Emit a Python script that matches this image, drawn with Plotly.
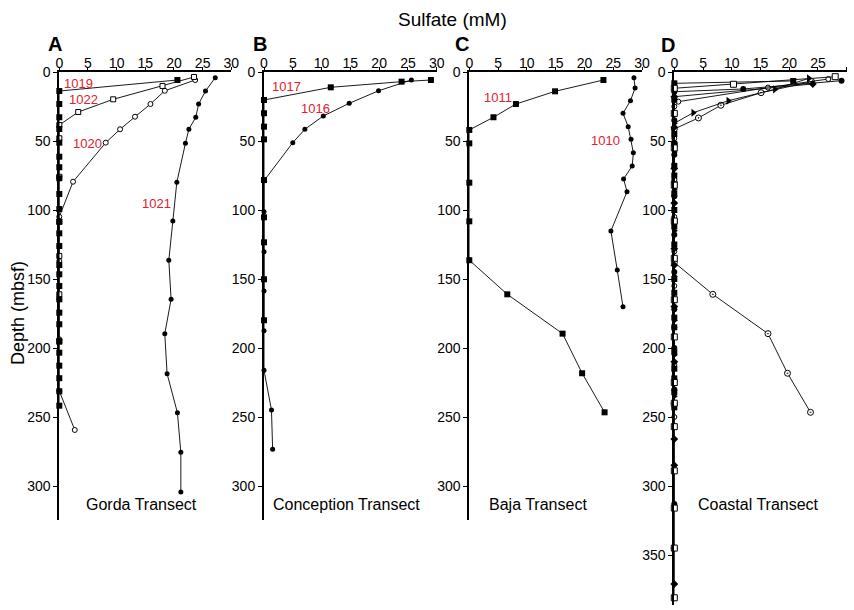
import plotly.graph_objects as go

# ---------------- data (sulfate mM vs depth mbsf) ----------------
# Panel A - Gorda Transect
a1019_sulfate = [20.6, 0, 0, 0, 0, 0, 0, 0, 0, 0, 0, 0, 0, 0, 0, 0, 0, 0, 0, 0, 0, 0, 0, 0, 0, 0]
a1019_depth = [5.8, 13.8, 23.2, 32.8, 41.3, 51.2, 61.4, 69, 77, 88.4, 99.3, 108.5, 116.9, 126.1,
               139.9, 146.6, 155.1, 164.7, 174.4, 182.8, 195.4, 203.4, 212.8, 221.9, 231.4, 241.8]
a1022_sulfate = [23.5, 18.0, 9.4, 3.3, 0, 0, 0, 0, 0, 0, 0]
a1022_depth = [3.6, 10.1, 19.8, 29, 38.4, 48, 75.9, 108.5, 133.3, 161.1, 195]
a1020_sulfate = [23.7, 18.4, 15.9, 13.2, 10.6, 8.1, 2.4, 0, 0, 0, 0, 0, 2.7]
a1020_depth = [5.8, 13.6, 23.2, 32.4, 41.5, 51.2, 79.5, 104.9, 137, 164.7, 193.7, 231.2, 259.4]
a1021_sulfate = [27.2, 25.5, 24.3, 23.8, 22.6, 22.0, 20.5, 19.8, 19.1, 19.5, 18.4, 18.8, 20.6, 21.2, 21.2]
a1021_depth = [4.1, 13.8, 23.2, 32.8, 41.5, 51.7, 79.9, 108, 136.4, 164.7, 189.6, 218.6, 246.9, 275.6, 304.3]

# Panel B - Conception Transect
b1017_sulfate = [29.0, 23.9, 11.6, 0, 0, 0, 0, 0, 0, 0, 0, 0]
b1017_depth = [5.8, 7, 11.1, 20.3, 29.9, 39.6, 48.8, 78.3, 105.3, 123.4, 150.2, 179.9]
b1016_sulfate = [25.6, 19.9, 14.8, 10.3, 7.1, 5.0, 0, 0, 0, 0, 0, 0, 1.3, 1.5]
b1016_depth = [5.8, 13.6, 22.7, 31.9, 41.5, 51.2, 78.8, 101.2, 130.2, 158.7, 187.5, 216.2, 244.9, 273.4]

# Panel C - Baja Transect
c1011_sulfate = [23.3, 14.9, 8.1, 4.2, 0, 0, 0, 0, 0, 6.6, 16.2, 19.6, 23.5]
c1011_depth = [5.8, 14, 23.2, 32.8, 42, 51.7, 80.2, 108.2, 136.4, 161.1, 189.6, 218.3, 246.6]
c1010_sulfate = [28.6, 28.8, 28.0, 26.7, 27.6, 28.1, 28.5, 28.3, 26.8, 27.4, 24.6, 25.7, 26.7]
c1010_depth = [4.1, 11.6, 20.8, 29.9, 39.6, 48.8, 58.5, 68.1, 77.5, 86.7, 115.2, 143.5, 170.1]

# Panel D - Coastal Transect
d_s1_sulfate = [28.0, 10.3, 0, 0, 0, 0, 0, 0, 0, 0, 0, 0, 0, 0, 0, 0, 0]
d_s1_depth = [3.4, 8.9, 11.8, 30, 55, 82, 108, 135, 165, 192, 225, 240, 257, 289, 316, 345, 381]
d_s2_sulfate = [29.1, 12.0, 0, 0, 0, 0, 0, 0, 0, 0, 0, 0]
d_s2_depth = [6.3, 12.3, 14.3, 35, 60, 90, 118, 145, 172, 200, 230, 313]
d_s3_sulfate = [20.7, 0, 0, 0, 0, 0, 0, 0, 0, 0, 0, 0, 0, 0, 0, 0, 0, 0, 0, 0]
d_s3_depth = [6.5, 8.2, 20, 45, 52, 68, 75, 88, 100, 112, 125, 150, 160, 178, 185, 203, 215, 222, 232, 243]
d_s4_sulfate = [24.1, 0, 0, 0, 0, 0, 0, 0, 0, 0, 0, 0, 0, 0]
d_s4_depth = [8.7, 17.9, 40, 70, 95, 128, 140, 170, 210, 240, 266, 285, 345, 371]
d_s5_sulfate = [26.8, 16.3, 0.7, 0, 0, 0, 0, 0, 0, 0, 0, 0]
d_s5_depth = [5.1, 11.3, 21.5, 25, 48, 78, 105, 130, 155, 185, 212, 250]
d_s6_sulfate = [23.4, 17.5, 9.4, 3.3, 0, 0, 0, 0, 0, 0, 0, 0]
d_s6_depth = [4.6, 12.6, 20.8, 29.5, 37.2, 58, 85, 115, 148, 180, 205, 235]
d_s7_sulfate = [23.9, 15.1, 8.1, 4.2, 0, 0, 0, 0, 0, 6.7, 16.3, 19.7, 23.7]
d_s7_depth = [7, 15, 24.1, 33.3, 41.3, 52, 80, 108, 138, 161.1, 189.6, 218.3, 246.6]

x_ticks = [0, 5, 10, 15, 20, 25, 30]
y_ticks_abc = [0, 50, 100, 150, 200, 250, 300]
y_ticks_d = [0, 50, 100, 150, 200, 250, 300, 350]
transect_names = ["Gorda Transect", "Conception Transect", "Baja Transect", "Coastal Transect"]
panel_letters = ["A", "B", "C", "D"]

# ---------------- figure ----------------
W, H = 854, 610
FONT = "Liberation Sans, Arial, Helvetica, sans-serif"
RED = "#e0202e"

fig = go.Figure()


def add(xs, ys, ax, symbol, size, filled=True, lw=0.9):
    if filled:
        marker = dict(symbol=symbol, size=size, color="black", line=dict(width=0))
    else:
        marker = dict(symbol=symbol, size=size, color="white", line=dict(color="black", width=1))
    fig.add_trace(go.Scatter(
        x=xs, y=ys, mode="lines+markers", xaxis="x" + ax, yaxis="y" + ax,
        line=dict(color="black", width=lw), marker=marker, cliponaxis=False,
        showlegend=False, hoverinfo="skip"))


# A
add(a1021_sulfate, a1021_depth, "", "circle", 5)
add(a1020_sulfate, a1020_depth, "", "circle", 5, filled=False)
add(a1022_sulfate, a1022_depth, "", "square", 5, filled=False)
add(a1019_sulfate, a1019_depth, "", "square", 6)
# B
add(b1016_sulfate, b1016_depth, "2", "circle", 5)
add(b1017_sulfate, b1017_depth, "2", "square", 6)
# C
add(c1010_sulfate, c1010_depth, "3", "circle", 5)
add(c1011_sulfate, c1011_depth, "3", "square", 6)
# D
add(d_s7_sulfate, d_s7_depth, "4", "circle-dot", 6, filled=False)
add(d_s6_sulfate, d_s6_depth, "4", "triangle-right", 7)
add(d_s5_sulfate, d_s5_depth, "4", "circle", 5, filled=False)
add(d_s4_sulfate, d_s4_depth, "4", "diamond", 6)
add(d_s3_sulfate, d_s3_depth, "4", "square", 6)
add(d_s2_sulfate, d_s2_depth, "4", "circle", 6)
add(d_s1_sulfate, d_s1_depth, "4", "square", 6, filled=False)

# axes geometry (pixels -> paper)
x_px = [(59.3, 231.3), (264.0, 436.7), (469.3, 642.0), (674.3, 846.7)]
y_top = 72
y_bot = [520, 520, 520, 605]
scale = 1.38  # px per mbsf

layout = dict(
    template="none",
    width=W, height=H, autosize=False,
    margin=dict(l=0, r=0, t=0, b=0, pad=0),
    paper_bgcolor="white", plot_bgcolor="white",
    font=dict(family=FONT, color="black", size=13),
)
for i in range(4):
    suf = "" if i == 0 else str(i + 1)
    ax_id = "" if i == 0 else str(i + 1)
    x0, x1 = x_px[i]
    yb = y_bot[i]
    ymax = (yb - y_top) / scale
    layout["xaxis" + suf] = dict(
        domain=[x0 / W, x1 / W], range=[0, 30], side="top", anchor="y" + ax_id,
        automargin=False, ticklabelstandoff=-6,
        showline=True, linecolor="black", linewidth=1.5, ticks="outside", ticklen=3,
        tickwidth=1, tickcolor="black", tickvals=x_ticks, showgrid=False, zeroline=False,
        tickfont=dict(size=14, family=FONT, color="black"), fixedrange=True)
    layout["yaxis" + suf] = dict(
        domain=[1 - yb / H, 1 - y_top / H], range=[ymax, 0], anchor="x" + ax_id,
        automargin=False,
        showline=True, linecolor="black", linewidth=2, ticks="outside", ticklen=4,
        tickwidth=1, tickcolor="black",
        tickvals=y_ticks_d if i == 3 else y_ticks_abc,
        showgrid=False, zeroline=False,
        tickfont=dict(size=14, family=FONT, color="black"), fixedrange=True)

fig.update_layout(**layout)

ann = []
# site labels (red)
site_labels = [("1019", "", 3.4, 8), ("1022", "", 4.2, 19.7), ("1020", "", 5.0, 51.7),
               ("1021", "", 17.0, 95), ("1017", "2", 3.9, 10.6), ("1016", "2", 9.0, 26.3),
               ("1011", "3", 4.9, 18.6), ("1010", "3", 23.7, 49.3)]
for txt, ax, xv, yv in site_labels:
    ann.append(dict(text=txt, x=xv, y=yv, xref="x" + ax, yref="y" + ax, showarrow=False,
                    xanchor="center", yanchor="middle",
                    font=dict(size=13, color=RED, family=FONT)))
# transect names
t_pos = [14.4, 14.3, 11.85, 14.6]
for i in range(4):
    ax = "" if i == 0 else str(i + 1)
    ann.append(dict(text=transect_names[i], x=t_pos[i], y=313.5, xref="x" + ax, yref="y" + ax,
                    showarrow=False, xanchor="center", yanchor="middle",
                    font=dict(size=16, family=FONT, color="black")))
# panel letters
letter_px = [(55, 44), (260, 44), (462, 44), (668, 45)]
for i in range(4):
    ann.append(dict(text="<b>" + panel_letters[i] + "</b>", x=letter_px[i][0] / W,
                    y=1 - letter_px[i][1] / H, xref="paper", yref="paper", showarrow=False,
                    xanchor="center", yanchor="middle",
                    font=dict(size=20, family=FONT, color="black")))
# titles
ann.append(dict(text="Sulfate (mM)", x=452 / W, y=1 - 19 / H, xref="paper", yref="paper",
                showarrow=False, xanchor="center", yanchor="middle",
                font=dict(size=19, family=FONT, color="black")))
ann.append(dict(text="Depth (mbsf)", x=18 / W, y=1 - 313 / H, xref="paper", yref="paper",
                showarrow=False, textangle=-90, xanchor="center", yanchor="middle",
                font=dict(size=18, family=FONT, color="black")))
fig.update_layout(annotations=ann)

fig.write_html("out.html")
